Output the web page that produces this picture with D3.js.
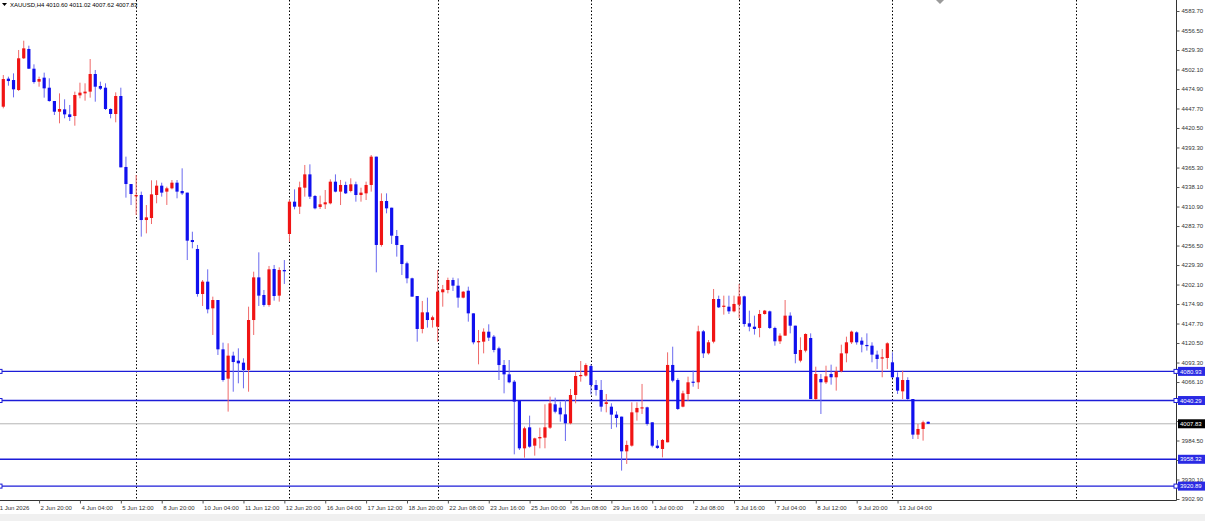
<!DOCTYPE html>
<html>
<head>
<meta charset="utf-8">
<script src="https://d3js.org/d3.v7.min.js"></script>
<style>
  body { margin: 0; background: #fff; }
  svg text { font-family: "Liberation Sans", Arial, sans-serif; }
</style>
</head>
<body>
<div id="chart"></div>
<script>
// XAUUSD H4 bars (bar 0 = 1 Jun 16:00)
var opens = [4450.2,4489.3,4487.4,4473.5,4517.7,4530.7,4503.2,4485.1,4490.7,4476.7,
  4458.1,4443.2,4446.5,4439.5,4437.2,4466.0,4468.8,4471.2,4495.8,4479.1,
  4476.7,4447.0,4440.0,4465.1,4366.1,4342.3,4325.1,4327.0,4292.1,4294.9,
  4327.0,4340.0,4331.7,4336.3,4344.2,4332.6,4330.3,4264.2,4251.7,4188.9,
  4206.1,4168.9,4180.5,4111.7,4070.8,4102.9,4095.9,4093.1,4082.9,4152.6,
  4212.1,4187.5,4173.6,4223.8,4186.6,4222.4,4272.6,4317.7,4310.7,4337.2,
  4355.8,4325.6,4310.3,4314.0,4315.4,4345.6,4331.7,4341.0,4332.6,4341.9,
  4327.0,4329.3,4341.0,4380.5,4257.3,4318.6,4309.3,4269.8,4257.3,4231.7,
  4210.8,4186.1,4140.1,4163.3,4152.6,4143.3,4191.3,4194.5,4208.4,4200.5,
  4183.8,4193.5,4161.9,4121.5,4122.4,4136.3,4129.4,4113.1,4089.8,4076.8,
  4066.6,4039.6,3973.6,4002.9,3977.3,3987.5,3988.5,4002.4,4035.0,4030.3,
  4021.0,4008.5,4048.0,4074.5,4075.0,4088.4,4061.9,4055.0,4035.5,4031.7,
  4020.6,4017.8,3969.4,3977.3,4023.8,4029.4,4030.8,4009.9,3977.3,3972.7,
  3982.0,4089.9,4068.9,4031.7,4049.4,4066.6,4065.7,4136.8,4106.1,4122.4,
  4181.9,4171.2,4171.2,4164.7,4174.0,4185.6,4148.0,4143.3,4141.5,4161.0,
  4164.7,4141.5,4122.9,4130.8,4158.7,4144.7,4095.9,4109.9,4127.5,4042.4,
  4070.3,4065.7,4077.3,4072.7,4081.0,4106.1,4121.5,4135.4,4123.8,4117.8,
  4116.8,4104.3,4099.2,4099.6,4093.6,4072.7,4053.1,4068.9,4042.4,3992.7,
  4000.6,4010.60];
var highs = [4494.4,4492.1,4496.7,4529.3,4542.3,4535.3,4509.3,4492.1,4497.7,4489.8,
  4458.1,4468.8,4460.5,4452.6,4471.2,4483.7,4482.8,4516.7,4501.4,4485.1,
  4482.8,4447.9,4470.2,4476.7,4380.5,4342.3,4354.9,4331.7,4313.0,4347.5,
  4347.5,4344.2,4338.6,4347.9,4347.9,4364.2,4330.3,4275.8,4257.3,4208.4,
  4223.3,4185.2,4180.5,4121.0,4120.1,4108.4,4113.1,4099.2,4171.2,4220.0,
  4247.0,4194.5,4228.0,4229.4,4226.1,4236.3,4320.0,4334.9,4345.6,4368.9,
  4369.8,4327.0,4326.1,4334.0,4348.9,4355.8,4348.0,4345.6,4350.3,4345.6,
  4337.2,4345.6,4382.8,4380.5,4329.3,4329.3,4309.3,4278.2,4257.3,4234.0,
  4211.7,4186.1,4179.2,4183.8,4158.7,4222.4,4201.5,4211.7,4211.7,4210.7,
  4193.1,4199.1,4161.9,4138.7,4141.0,4146.6,4131.7,4115.4,4096.8,4096.8,
  4068.9,4039.6,4003.8,4019.2,3988.5,4002.4,4035.0,4045.7,4044.3,4038.7,
  4041.0,4056.4,4080.5,4095.4,4092.2,4090.8,4068.9,4068.9,4049.4,4036.4,
  4025.2,4017.8,3984.3,4037.8,4037.8,4063.4,4031.7,4009.9,3985.2,3986.6,
  4107.5,4115.4,4071.3,4054.0,4073.6,4082.0,4144.7,4138.7,4124.7,4195.9,
  4186.6,4186.6,4186.6,4186.6,4202.9,4186.6,4165.7,4158.7,4166.6,4166.6,
  4165.7,4143.3,4134.0,4180.5,4163.3,4144.7,4128.5,4134.0,4134.0,4087.5,
  4077.3,4088.9,4090.3,4087.5,4118.2,4129.4,4137.8,4136.8,4128.5,4134.0,
  4121.5,4109.9,4112.2,4121.5,4107.5,4079.6,4081.9,4072.7,4042.4,4007.6,
  4012.2,4011.02];
var lows = [4447.9,4479.5,4463.2,4472.1,4516.7,4502.8,4482.3,4478.1,4462.8,4457.2,
  4438.6,4427.0,4434.0,4430.2,4423.7,4461.9,4458.6,4462.8,4457.2,4473.5,
  4445.6,4434.0,4428.4,4365.6,4323.3,4313.0,4299.1,4268.9,4273.5,4286.5,
  4315.4,4324.7,4313.1,4334.9,4322.4,4327.0,4236.3,4252.6,4185.2,4172.2,
  4161.9,4131.7,4103.8,4066.6,4024.8,4052.6,4064.3,4057.3,4052.6,4131.7,
  4172.2,4171.2,4171.2,4179.6,4178.2,4202.9,4261.9,4307.0,4300.5,4324.7,
  4321.4,4307.0,4307.5,4307.5,4314.0,4330.7,4313.0,4328.4,4330.7,4317.7,
  4317.7,4320.0,4331.7,4219.1,4255.0,4301.4,4258.7,4241.0,4215.4,4203.8,
  4185.2,4122.4,4134.0,4142.0,4142.0,4122.4,4171.2,4189.8,4193.1,4169.8,
  4182.8,4150.3,4118.7,4090.8,4106.1,4123.3,4107.5,4068.9,4050.3,4064.3,
  3965.2,3971.3,3960.6,3974.5,3963.4,3973.6,3973.6,4000.6,4022.4,4010.8,
  3983.8,4007.1,4036.4,4066.6,4073.6,4048.9,4047.1,4024.7,4023.8,4000.6,
  4002.9,3942.5,3951.8,3975.9,4012.2,4021.5,4005.2,3975.0,3972.7,3961.0,
  3982.0,4065.7,4027.1,4030.8,4040.1,4059.6,4056.4,4099.6,4104.3,4120.1,
  4169.4,4160.1,4161.0,4163.3,4155.4,4143.3,4136.8,4132.2,4128.5,4160.1,
  4140.1,4116.8,4119.2,4130.8,4134.0,4092.2,4093.6,4107.5,4042.4,4041.0,
  4021.5,4063.4,4062.4,4054.1,4079.6,4093.6,4119.2,4118.2,4107.5,4109.9,
  4093.6,4084.3,4072.7,4084.3,4071.7,4049.4,4042.4,4041.0,3986.6,3986.6,
  3984.3,4007.62];
var closes = [4488.8,4486.0,4474.4,4517.7,4531.6,4503.2,4484.6,4488.8,4475.8,4458.1,
  4443.2,4447.0,4439.5,4435.8,4466.5,4469.8,4471.2,4495.8,4478.1,4475.3,
  4447.0,4440.0,4465.1,4365.6,4342.3,4328.4,4327.0,4292.1,4295.8,4327.9,
  4340.0,4330.3,4336.3,4344.2,4331.7,4329.3,4263.3,4261.4,4188.9,4206.1,
  4167.5,4180.5,4111.7,4068.9,4102.9,4094.0,4092.2,4082.9,4152.6,4212.1,
  4186.6,4173.6,4223.3,4186.1,4222.4,4220.5,4317.7,4310.7,4337.7,4355.8,
  4324.7,4308.4,4314.0,4316.8,4345.6,4331.7,4341.0,4329.3,4341.9,4327.0,
  4330.3,4341.0,4380.5,4257.3,4318.6,4308.4,4270.3,4257.3,4230.7,4210.8,
  4185.2,4140.1,4163.3,4152.6,4156.4,4192.2,4195.4,4208.4,4200.5,4183.8,
  4192.1,4161.9,4121.5,4123.3,4136.3,4128.0,4110.8,4089.8,4076.8,4065.7,
  4038.7,3973.6,4001.5,3975.9,3987.5,3989.4,4002.9,4036.4,4024.7,4021.0,
  4008.5,4048.0,4074.5,4075.9,4089.8,4061.9,4055.0,4031.7,4037.8,4020.6,
  4015.9,3969.4,3978.3,4023.8,4029.9,4030.8,4007.6,3977.3,3974.1,3985.2,
  4089.9,4068.0,4028.5,4050.3,4065.7,4065.2,4136.8,4106.1,4121.5,4181.9,
  4170.3,4172.6,4164.7,4175.0,4185.6,4147.0,4143.3,4140.1,4161.0,4165.7,
  4141.5,4122.9,4130.8,4158.7,4144.7,4105.2,4110.8,4133.1,4042.4,4077.3,
  4065.7,4074.0,4072.7,4081.0,4106.1,4121.5,4136.4,4121.5,4118.2,4116.8,
  4104.3,4098.2,4100.5,4120.1,4072.7,4054.1,4068.9,4042.4,3992.7,4000.6,
  4009.9,4007.83];

// time axis labels (bar index -> text)
var timeTickIdx = [-1,7,15,23,31,39,47,55,63,71,79,87,95,103,111,119,127,135,143,151,159,167,175];
var timeTickText = ["1 Jun 2026","2 Jun 20:00","4 Jun 04:00","5 Jun 12:00","8 Jun 20:00",
  "10 Jun 04:00","11 Jun 12:00","12 Jun 20:00","16 Jun 04:00","17 Jun 12:00","18 Jun 20:00",
  "22 Jun 08:00","23 Jun 16:00","25 Jun 00:00","26 Jun 08:00","29 Jun 16:00","1 Jul 00:00",
  "2 Jul 08:00","3 Jul 16:00","7 Jul 04:00","8 Jul 12:00","9 Jul 20:00","13 Jul 04:00"];

// week separators (bar index of Monday 00:00)
var separatorIdx = [26,56,85,115,144,174,210];

// price scale labels
var priceTicks = [4583.70,4556.50,4529.30,4502.10,4474.90,4447.70,4420.50,4393.30,4365.30,
  4338.10,4310.90,4283.70,4256.50,4229.30,4202.10,4174.90,4147.70,4120.50,4093.30,
  4066.10,4038.90,4011.70,3984.50,3957.30,3930.10,3902.90];

// horizontal levels
var levelPrices = [4080.93,4040.29,3958.32,3920.89];
var levelAnchored = [true,true,false,true];
var bidPrice = 4007.83;

var symbolTitle = "XAUUSD,H4";

function drawChart(target){
    var width = 1205, height = 521;
    var plotRight = 1176, plotBottom = 500;

    var svg = d3.select(target).append("svg")
        .attr("width", width)
        .attr("height", height);

    svg.append("rect").attr("width", width).attr("height", height).attr("fill", "#fff");
    // status strip under the chart
    svg.append("rect").attr("x", 0).attr("y", 514).attr("width", width).attr("height", 7).attr("fill", "#f0f0f0");

    var x = d3.scaleLinear()
        .domain([0, opens.length - 1])
        .range([3.3, 928.2]);

    var y = d3.scaleLinear()
        .domain([3902.9, 4583.7])
        .range([499, 11]);

    var bars = opens.map(function(o, i){
        return {i: i, o: o, h: highs[i], l: lows[i], c: closes[i]};
    });

    // separators
    svg.append("g").selectAll("line")
        .data(separatorIdx)
        .enter().append("line")
        .attr("x1", function(d){ return Math.round(x(d)) + 0.5; })
        .attr("x2", function(d){ return Math.round(x(d)) + 0.5; })
        .attr("y1", 0)
        .attr("y2", plotBottom)
        .attr("stroke", "#000")
        .attr("stroke-width", 1)
        .attr("stroke-dasharray", "1.5,2");

    // bid line
    svg.append("line")
        .attr("x1", 0).attr("x2", plotRight)
        .attr("y1", y(bidPrice)).attr("y2", y(bidPrice))
        .attr("stroke", "#b4b4b4").attr("stroke-width", 1);

    // levels
    svg.append("g").selectAll("line")
        .data(levelPrices)
        .enter().append("line")
        .attr("x1", 0).attr("x2", plotRight)
        .attr("y1", function(d){ return y(d); })
        .attr("y2", function(d){ return y(d); })
        .attr("stroke", "#1c1cd8")
        .attr("stroke-width", 1.4);

    // candles
    var candle = svg.append("g").selectAll("g")
        .data(bars)
        .enter().append("g");

    candle.append("line")
        .attr("x1", function(d){ return x(d.i); })
        .attr("x2", function(d){ return x(d.i); })
        .attr("y1", function(d){ return y(d.h); })
        .attr("y2", function(d){ return y(d.l); })
        .attr("stroke", function(d){ return d.c >= d.o ? "#ef6a6a" : "#6a6aef"; })
        .attr("stroke-width", 1);

    candle.append("rect")
        .attr("x", function(d){ return x(d.i) - 1.6; })
        .attr("width", 3.2)
        .attr("y", function(d){ return y(Math.max(d.o, d.c)); })
        .attr("height", function(d){ return Math.max(1.2, Math.abs(y(d.o) - y(d.c))); })
        .attr("fill", function(d){ return d.c >= d.o ? "#f01414" : "#1010ee"; });

    // axes
    svg.append("line").attr("x1", plotRight + 0.5).attr("x2", plotRight + 0.5)
        .attr("y1", 0).attr("y2", plotBottom + 0.5).attr("stroke", "#333");
    svg.append("line").attr("x1", 0).attr("x2", plotRight + 0.5)
        .attr("y1", plotBottom + 0.5).attr("y2", plotBottom + 0.5).attr("stroke", "#333");

    var tagPrices = levelPrices.concat([bidPrice]);

    var yAxis = d3.axisRight(y)
        .tickValues(priceTicks)
        .tickSize(3)
        .tickPadding(2)
        .tickFormat(d3.format(".2f"));

    var gy = svg.append("g")
        .attr("transform", "translate(" + (plotRight + 0.5) + ",0)")
        .call(yAxis);
    gy.select(".domain").remove();
    gy.selectAll(".tick line").attr("stroke", "#555");
    gy.selectAll(".tick text").attr("fill", "#333").style("font-size", "6px")
        .style("font-family", "Liberation Sans, Arial, sans-serif");
    // scale labels that sit under a price tag are hidden, as the terminal does
    gy.selectAll(".tick text").filter(function(d){
        return tagPrices.some(function(p){ return Math.abs(y(p) - y(d)) < 6; });
    }).remove();

    var xAxis = d3.axisBottom(x)
        .tickValues(timeTickIdx)
        .tickSize(3)
        .tickPadding(2)
        .tickFormat(function(d, i){ return timeTickText[i]; });

    var gx = svg.append("g")
        .attr("transform", "translate(0," + (plotBottom + 0.5) + ")")
        .call(xAxis);
    gx.select(".domain").remove();
    gx.selectAll(".tick line").attr("stroke", "#555");
    gx.selectAll(".tick text")
        .attr("text-anchor", "start")
        .attr("x", 1)
        .attr("fill", "#333")
        .style("font-size", "6px")
        .style("font-family", "Liberation Sans, Arial, sans-serif");

    // anchors on the levels
    levelPrices.forEach(function(p, k){
        if(!levelAnchored[k]) return;
        [0, plotRight].forEach(function(ax){
            svg.append("rect")
                .attr("x", ax - 2).attr("y", y(p) - 2)
                .attr("width", 4).attr("height", 4)
                .attr("fill", "#fff").attr("stroke", "#1c1cd8").attr("stroke-width", 1);
        });
    });

    // price tags
    function priceTag(p, fill){
        svg.append("rect")
            .attr("x", plotRight + 2).attr("y", y(p) - 4.5)
            .attr("width", 27).attr("height", 9)
            .attr("fill", fill);
        svg.append("text")
            .attr("x", plotRight + 4).attr("y", y(p) + 2.2)
            .attr("fill", "#fff")
            .style("font-size", "6px")
            .text(p.toFixed(2));
    }
    levelPrices.forEach(function(p){ priceTag(p, "#2a2ae4"); });
    priceTag(bidPrice, "#000");

    // title line
    var last = bars[bars.length - 1];
    svg.append("path")
        .attr("d", "M2,3 L7,3 L4.5,6 Z")
        .attr("fill", "#000");
    svg.append("text")
        .attr("x", 10).attr("y", 7)
        .attr("fill", "#000")
        .style("font-size", "6px")
        .text(symbolTitle + "  " + [last.o, last.h, last.l, last.c].map(function(v){ return v.toFixed(2); }).join(" "));

    // object marker near the top
    svg.append("path")
        .attr("d", "M936,0 L940,-4 L944,0 L940,4 Z")
        .attr("fill", "#9a9a9a");
}

drawChart("#chart");
</script>
</body>
</html>
